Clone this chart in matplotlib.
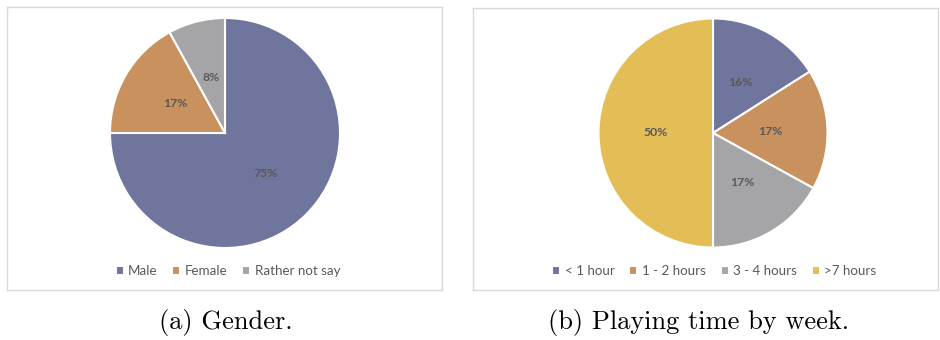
import matplotlib.pyplot as plt

# data
gender_labels = ["Male", "Female", "Rather not say"]
gender_values = [75, 17, 8]

time_labels = ["< 1 hour", "1 - 2 hours", "3 - 4 hours", ">7 hours"]
time_values = [16, 17, 17, 50]

captions = ["(a) Gender.", "(b) Playing time by week."]

colors = ["#6F759C", "#C8915E", "#A5A5A8", "#E3BD55"]
text_gray = "#595959"

W, H = 940, 340
fig = plt.figure(figsize=(W / 100, H / 100), dpi=100)


def panel(box, values, labels, center, radius, leg_x):
    # box given in image pixels: (left, top, right, bottom)
    l, t, r, b = box
    ax = fig.add_axes([l / W, (H - b) / H, (r - l) / W, (b - t) / H])
    ax.set_aspect("equal")
    wedges, _, autotexts = ax.pie(
        values, colors=colors[:len(values)], startangle=90, counterclock=False,
        center=(center[0], H - center[1]), radius=radius,
        autopct="%1.0f%%", pctdistance=0.5,
        wedgeprops=dict(edgecolor="white", linewidth=1.5),
        textprops=dict(color=text_gray, fontsize=8.8, fontweight="bold",
                       family="Lato"),
    )
    ax.set_xlim(l, r)
    ax.set_ylim(H - b, H - t)
    ax.set_xticks([])
    ax.set_yticks([])
    ax.set_frame_on(True)
    for s in ax.spines.values():
        s.set_visible(True)
        s.set_color("#D9D9D9")
        s.set_linewidth(1)
    leg = ax.legend(wedges, labels, loc="center", bbox_to_anchor=(leg_x, 0.067),
                    ncol=len(labels), frameon=False, handlelength=0.6,
                    handleheight=0.6, handletextpad=0.35, columnspacing=1.1,
                    prop=dict(family="Lato", size=9.6))
    for txt in leg.get_texts():
        txt.set_color(text_gray)
    return ax


panel((7, 7, 442, 290), gender_values, gender_labels, (225, 133), 115, 0.508)
panel((473, 8, 938, 290), time_values, time_labels, (713, 133), 114.5, 0.519)

fig.text(226 / W, 1 - 322 / H, captions[0], ha="center", va="center",
         family="cmr10", fontsize=19)
fig.text(699 / W, 1 - 322 / H, captions[1], ha="center", va="center",
         family="cmr10", fontsize=19)

plt.savefig("out.png", dpi=100)
